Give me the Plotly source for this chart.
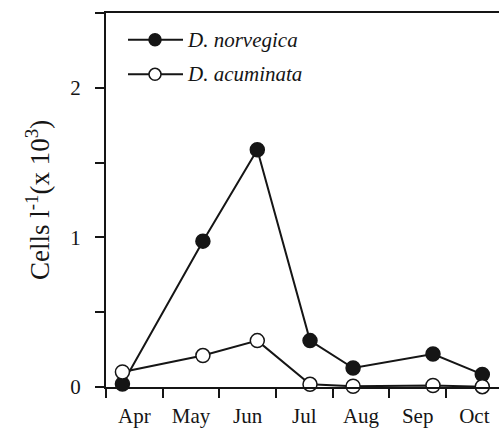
import plotly.graph_objects as go

# Data (x = position in months, 0 = start of April)
month_labels = ["Apr", "May", "Jun", "Jul", "Aug", "Sep", "Oct"]
month_starts = [0, 1, 2, 3, 4, 5, 6]
month_centers = [0.5, 1.5, 2.5, 3.5, 4.5, 5.5, 6.5]
sample_pos = [0.29, 1.71, 2.67, 3.60, 4.36, 5.77, 6.64]
norvegica = [0.02, 0.975, 1.586, 0.31, 0.127, 0.22, 0.084]
acuminata = [0.10, 0.21, 0.31, 0.018, 0.005, 0.01, 0.002]
y_tickvals = [0, 1, 2]
y_ticktext = ["0", "1", "2"]
y_minorvals = [0.5, 1.5, 2.5]

INK = "#151515"
SERIF = "Liberation Serif, Times New Roman, serif"

fig = go.Figure()
fig.add_trace(go.Scatter(
    x=sample_pos, y=norvegica, mode="lines+markers", name="D. norvegica",
    line=dict(color=INK, width=2),
    marker=dict(size=14, color=INK, line=dict(color=INK, width=1.5)),
    cliponaxis=False, showlegend=False))
fig.add_trace(go.Scatter(
    x=sample_pos, y=acuminata, mode="lines+markers", name="D. acuminata",
    line=dict(color=INK, width=2),
    marker=dict(size=14, color="white", line=dict(color=INK, width=1.5)),
    cliponaxis=False, showlegend=False))

L, R, T, B = 106, 0, 13, 37
W, H = 499, 428
pw, ph = W - L - R, H - T - B

def px(xp):
    return (xp - L) / pw

def py(yp):
    return (H - B - yp) / ph

# manual legend
legend_rows = [("D. norvegica", INK, 40), ("D. acuminata", "white", 75)]
for name, fill, ypix in legend_rows:
    fig.add_shape(type="line", xref="paper", yref="paper",
                  x0=px(128), x1=px(183), y0=py(ypix), y1=py(ypix),
                  line=dict(color=INK, width=2))
    fig.add_shape(type="circle", xref="paper", yref="paper",
                  xsizemode="pixel", ysizemode="pixel",
                  xanchor=px(155), yanchor=py(ypix),
                  x0=-6, x1=6, y0=-6, y1=6,
                  fillcolor=fill, line=dict(color=INK, width=1.5))
    fig.add_annotation(text="<i>" + name + "</i>", xref="paper", yref="paper",
                       x=px(185), y=py(ypix), xanchor="left", yanchor="middle",
                       showarrow=False, font=dict(family=SERIF, size=21, color=INK))

fig.add_annotation(text="Cells l<sup>-1</sup>(x 10<sup>3</sup>)", xref="paper", yref="paper",
                   x=px(38), y=py(202), xanchor="center", yanchor="middle",
                   textangle=-90, showarrow=False,
                   font=dict(family=SERIF, size=27, color=INK))

fig.update_layout(
    width=W, height=H,
    margin=dict(l=L, r=R, t=T, b=B, pad=0),
    paper_bgcolor="white", plot_bgcolor="white",
    showlegend=False,
    font=dict(family=SERIF, size=21, color=INK),
)
fig.update_xaxes(
    range=[0, (W - L) / 56.67], showgrid=False, zeroline=False,
    showline=True, linecolor=INK, linewidth=2, mirror=True,
    tickmode="array", tickvals=month_centers, ticktext=month_labels,
    ticks="outside", ticklen=9, tickcolor="rgba(0,0,0,0)",
    tickfont=dict(family=SERIF, size=21, color=INK),
    minor=dict(tickmode="array", tickvals=month_starts, ticks="outside",
               ticklen=9, tickwidth=2, tickcolor=INK, showgrid=False),
)
fig.update_yaxes(
    range=[0, 2.5], showgrid=False, zeroline=False,
    showline=True, linecolor=INK, linewidth=2, mirror=False,
    tickmode="array", tickvals=y_tickvals, ticktext=y_ticktext,
    ticks="outside", ticklen=9, tickwidth=2, tickcolor=INK,
    ticklabelstandoff=10,
    tickfont=dict(family=SERIF, size=21, color=INK),
    minor=dict(tickmode="array", tickvals=y_minorvals, ticks="outside",
               ticklen=9, tickwidth=2, tickcolor=INK, showgrid=False),
)

fig.write_html("out.html")
